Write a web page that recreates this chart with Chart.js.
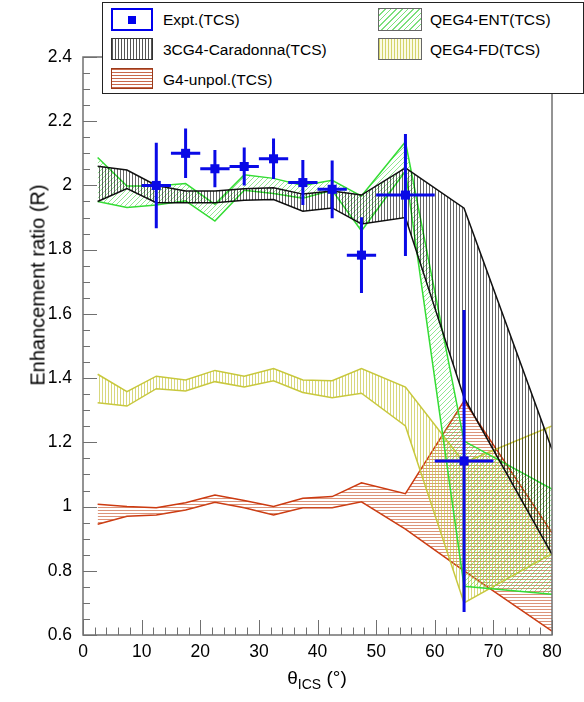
<!DOCTYPE html>
<html><head><meta charset="utf-8">
<script src="https://cdn.jsdelivr.net/npm/chart.js@4.4.1/dist/chart.umd.min.js"></script>
<style>
html,body{margin:0;padding:0;background:#fff;}
#wrap{position:relative;width:584px;height:702px;overflow:hidden;font-family:"Liberation Sans",Arial,Helvetica,sans-serif;}
#c{position:absolute;left:0;top:0;}
.legbox{position:absolute;left:102px;top:2px;width:480px;height:90px;border:1px solid #222;background:#fff;}
.sym{position:absolute;box-sizing:border-box;}
.txt{position:absolute;font-size:15.5px;color:#000;white-space:nowrap;line-height:22px;}
.ytitle{position:absolute;left:38px;top:285px;transform:translate(-50%,-50%) rotate(-90deg);font-size:20px;white-space:nowrap;color:#000;}
.xtitle{position:absolute;left:317px;top:667px;transform:translateX(-50%);font-size:19px;white-space:nowrap;color:#000;}
.xtitle sub{font-size:14px;vertical-align:-5px;}
</style></head>
<body>
<div id="wrap">
<canvas id="c" width="584" height="702"></canvas>
<div class="legbox"></div>
<div class="sym" style="left:111px;top:8px;width:42px;height:23px;border:2px solid #0000ee;background:#fff;"><div style="position:absolute;left:15px;top:6px;width:8px;height:8px;background:#0000ee;"></div></div>
<div class="txt" style="left:163px;top:8.5px;">Expt.(TCS)</div>
<div class="sym" style="left:111px;top:38px;width:42px;height:22px;border:1px solid #333;background:repeating-linear-gradient(90deg,#555 0 1px,#fff 1px 3px);"></div>
<div class="txt" style="left:163px;top:38.5px;">3CG4-Caradonna(TCS)</div>
<div class="sym" style="left:111px;top:68px;width:42px;height:21px;border:1px solid #9a3a1a;background:repeating-linear-gradient(0deg,#c8684a 0 1px,#fff 1px 3px);"></div>
<div class="txt" style="left:163px;top:68.5px;">G4-unpol.(TCS)</div>
<div class="sym" style="left:378px;top:8px;width:44px;height:23px;border:1px solid #666;background:repeating-linear-gradient(135deg,#7ce07c 0 1px,#fff 1px 4px);"></div>
<div class="txt" style="left:430px;top:8.5px;">QEG4-ENT(TCS)</div>
<div class="sym" style="left:378px;top:38px;width:44px;height:22px;border:1px solid #666;background:repeating-linear-gradient(90deg,#d4d46a 0 1px,#fbfbe6 1px 3px);"></div>
<div class="txt" style="left:430px;top:38.5px;">QEG4-FD(TCS)</div>
<div class="ytitle">Enhancement ratio (R)</div>
<div class="xtitle">θ<sub>ICS</sub> (°)</div>
</div>
<script>
// ---- data ----
const bandX = [2.5, 7.5, 12.5, 17.5, 22.5, 27.5, 32.5, 37.5, 42.5, 47.5, 55, 65, 80];
const caradonnaHigh = [2.06, 2.048, 2.0, 1.983, 1.983, 1.99, 1.993, 1.973, 1.983, 1.97, 2.055, 1.929, 1.178];
const caradonnaLow  = [1.95, 1.99, 1.946, 1.946, 1.946, 1.954, 1.956, 1.92, 1.93, 1.88, 1.90, 1.339, 0.851];
const entHigh = [2.087, 1.998, 1.998, 2.006, 1.941, 2.033, 2.022, 2.0, 2.016, 1.967, 2.136, 1.204, 1.054];
const entLow  = [1.95, 1.931, 1.939, 1.952, 1.889, 1.985, 1.975, 1.96, 1.985, 1.858, 2.045, 0.752, 0.727];
const fdHigh = [1.412, 1.358, 1.406, 1.394, 1.424, 1.406, 1.43, 1.394, 1.392, 1.43, 1.372, 1.137, 1.251];
const fdLow  = [1.323, 1.313, 1.367, 1.36, 1.389, 1.372, 1.392, 1.355, 1.339, 1.353, 1.251, 0.70, 0.853];
const unpolHigh = [1.007, 1.0, 0.996, 1.012, 1.036, 1.019, 1.0, 1.026, 1.031, 1.074, 1.04, 1.329, 0.918];
const unpolLow  = [0.945, 0.97, 0.974, 0.989, 1.013, 0.996, 0.974, 0.996, 0.996, 1.015, 0.93, 0.80, 0.612];
const exptX    = [12.5, 17.5, 22.5, 27.5, 32.5, 37.5, 42.5, 47.5, 55, 65];
const exptY    = [2.0, 2.1, 2.052, 2.059, 2.083, 2.009, 1.988, 1.783, 1.97, 1.142];
const exptXErr = [2.5, 2.5, 2.5, 2.5, 2.5, 2.5, 2.5, 2.5, 5, 5];
const exptYErr = [0.133, 0.077, 0.058, 0.059, 0.063, 0.07, 0.09, 0.118, 0.19, 0.47];
const xTickValues = [0, 10, 20, 30, 40, 50, 60, 70, 80];
const xTickLabels = ['0', '10', '20', '30', '40', '50', '60', '70', '80'];
const yTickValues = [0.6, 0.8, 1.0, 1.2, 1.4, 1.6, 1.8, 2.0, 2.2, 2.4];
const yTickLabels = ['0.6', '0.8', '1', '1.2', '1.4', '1.6', '1.8', '2', '2.2', '2.4'];

// ---- hatch patterns ----
const canvas = document.getElementById('c');
const mainCtx = canvas.getContext('2d');
function hatch(kind, color, step) {
  const p = document.createElement('canvas');
  p.width = step; p.height = step;
  const g = p.getContext('2d');
  g.fillStyle = color;
  if (kind === 'v') g.fillRect(0, 0, 1, step);
  else if (kind === 'h') g.fillRect(0, 0, step, 1);
  else { for (let x = 0; x < step; x++) for (let y = 0; y < step; y++) if ((x + y) % step === 0) g.fillRect(x, y, 1, 1); }
  return mainCtx.createPattern(p, 'repeat');
}
const patBlack = hatch('v', 'rgba(0,0,0,0.6)', 3);
const patGreen = hatch('d', 'rgba(70,215,70,0.6)', 5);
const patYellow = hatch('v', 'rgba(200,200,70,0.7)', 3);
const patRed = hatch('h', 'rgba(200,90,50,0.65)', 3);

function band(label, hi, lo, color, pattern, width) {
  return [
    { type: 'line', label: label, data: bandX.map((x, i) => ({ x: x, y: hi[i] })), borderColor: color, borderWidth: width,
      backgroundColor: pattern, fill: '+1', pointRadius: 0, tension: 0 },
    { type: 'line', label: label + ' low', data: bandX.map((x, i) => ({ x: x, y: lo[i] })), borderColor: color, borderWidth: width,
      backgroundColor: 'rgba(0,0,0,0)', fill: false, pointRadius: 0, tension: 0 }
  ];
}

const datasets = [
  { type: 'line', label: 'Expt.(TCS)', data: exptX.map((x, i) => ({ x: x, y: exptY[i] })), showLine: false,
    pointStyle: 'rect', pointRadius: 6.4, pointBackgroundColor: '#0a0ae6', pointBorderWidth: 0, borderColor: '#0a0ae6' },
  ...band('3CG4-Caradonna(TCS)', caradonnaHigh, caradonnaLow, '#111111', patBlack, 1.5),
  ...band('QEG4-ENT(TCS)', entHigh, entLow, '#33dd33', patGreen, 1.5),
  ...band('QEG4-FD(TCS)', fdHigh, fdLow, '#c8c83c', patYellow, 1.5),
  ...band('G4-unpol.(TCS)', unpolHigh, unpolLow, '#cc3a10', patRed, 1.5)
];

const errorBars = {
  id: 'errorBars',
  afterDatasetsDraw(chart) {
    const { ctx, scales: { x, y } } = chart;
    ctx.save();
    ctx.strokeStyle = '#0a0ae6';
    ctx.lineWidth = 3;
    ctx.beginPath();
    for (let i = 0; i < exptX.length; i++) {
      const px = x.getPixelForValue(exptX[i]), py = y.getPixelForValue(exptY[i]);
      ctx.moveTo(x.getPixelForValue(exptX[i] - exptXErr[i]), py);
      ctx.lineTo(x.getPixelForValue(exptX[i] + exptXErr[i]), py);
      ctx.moveTo(px, y.getPixelForValue(exptY[i] + exptYErr[i]));
      ctx.lineTo(px, y.getPixelForValue(exptY[i] - exptYErr[i]));
    }
    ctx.stroke();
    ctx.restore();
  }
};

const frame = {
  id: 'frame',
  afterDraw(chart) {
    const { ctx, chartArea: a, scales: { x, y } } = chart;
    ctx.save();
    ctx.strokeStyle = '#707070';
    ctx.lineWidth = 1.5;
    ctx.strokeRect(a.left, a.top, a.right - a.left, a.bottom - a.top);
    ctx.beginPath();
    for (let k = 0; k <= 36; k++) {
      const v = 0.6 + k * 0.05;
      const py = Math.round(y.getPixelForValue(v)) + 0.5;
      const len = (k % 4 === 0) ? 14 : 7;
      ctx.moveTo(a.left, py); ctx.lineTo(a.left + len, py);
    }
    for (let k = 0; k <= 40; k++) {
      const v = k * 2;
      const px = Math.round(x.getPixelForValue(v)) + 0.5;
      const len = (k % 5 === 0) ? 15 : 7.5;
      ctx.moveTo(px, a.bottom); ctx.lineTo(px, a.bottom - len);
    }
    ctx.lineWidth = 1;
    ctx.stroke();
    ctx.restore();
  }
};

const tickFont = { family: '"Liberation Sans", Arial, Helvetica, sans-serif', size: 17.5 };

new Chart(canvas, {
  data: { datasets: datasets },
  options: {
    responsive: false,
    devicePixelRatio: 1,
    animation: false,
    layout: { padding: { left: 0, top: 57, right: 32, bottom: 0 } },
    plugins: { legend: { display: false }, tooltip: { enabled: false } },
    scales: {
      x: {
        type: 'linear', min: 0, max: 80,
        afterBuildTicks: s => { s.ticks = xTickValues.map(v => ({ value: v })); },
        afterFit: s => { s.height = 67; },
        ticks: { callback: (v, i) => xTickLabels[i], color: '#000', font: tickFont, padding: 7, maxRotation: 0, autoSkip: false },
        grid: { display: false, drawTicks: false },
        border: { display: false }
      },
      y: {
        type: 'linear', min: 0.6, max: 2.4,
        afterBuildTicks: s => { s.ticks = yTickValues.map(v => ({ value: v })); },
        afterFit: s => { s.width = 83; },
        ticks: { callback: (v, i) => yTickLabels[i], color: '#000', font: tickFont, padding: 11, autoSkip: false },
        grid: { display: false, drawTicks: false },
        border: { display: false }
      }
    }
  },
  plugins: [errorBars, frame]
});
</script>
</body></html>
